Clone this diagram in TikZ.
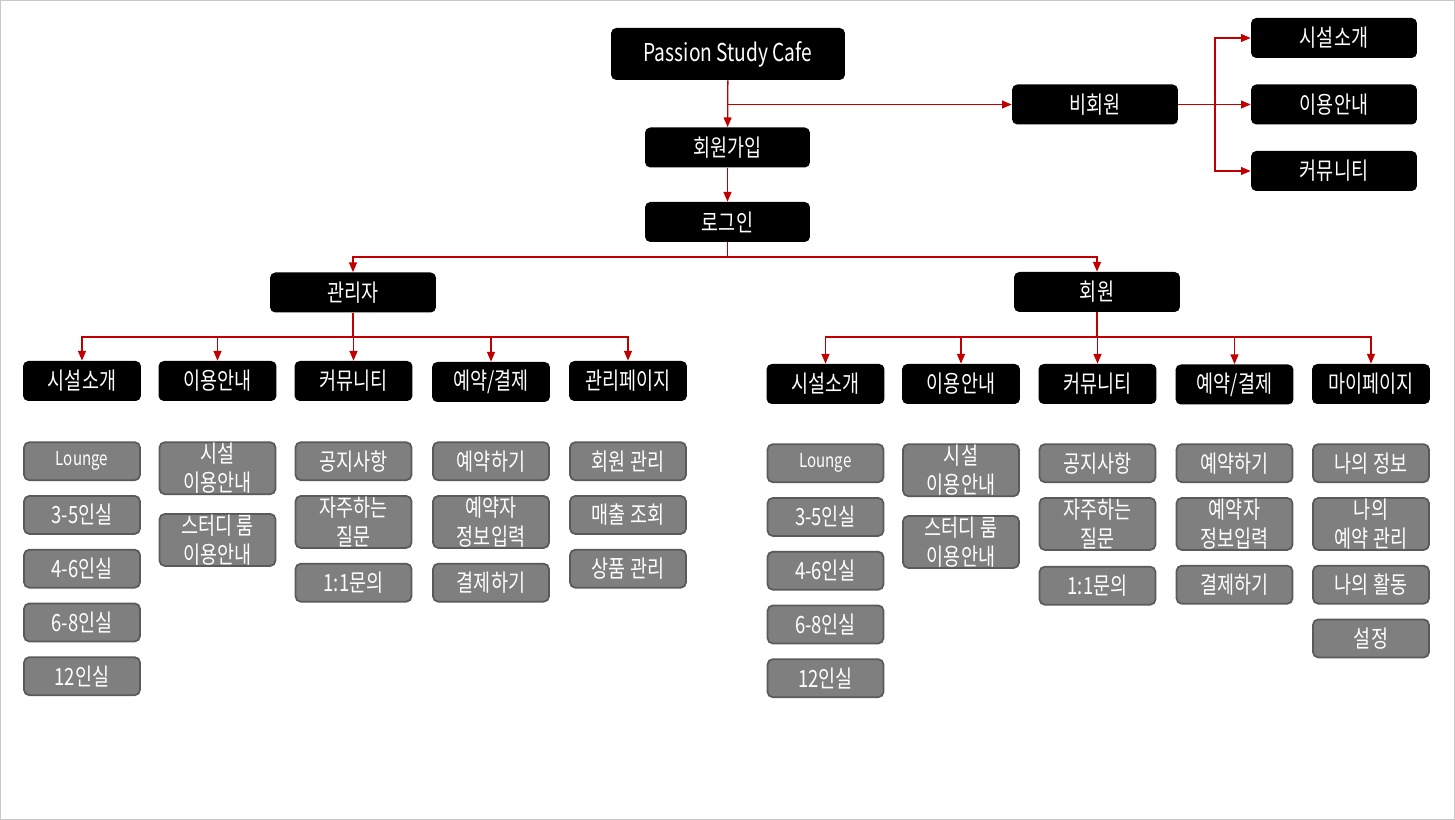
\documentclass[tikz,border=0pt]{standalone}
\usepackage{fontspec}
\setmainfont{Noto Sans CJK KR}[FakeStretch=0.78]
\usepackage{tikz}
\usetikzlibrary{arrows.meta, positioning}
\definecolor{arrred}{HTML}{C00000}
\definecolor{itemgray}{HTML}{7F7F7F}
\definecolor{itemedge}{HTML}{5A5A5A}
\definecolor{frame}{HTML}{C8C8C8}

\begin{document}
\begin{tikzpicture}[x=0.02cm, y=-0.02cm,
        head/.style={fill=black, rounded corners=3pt, text=white, minimum width=2.36cm, minimum height=0.8cm, inner sep=1pt, font=\fontsize{13.5}{16}\selectfont},
        item/.style={fill=itemgray, draw=itemedge, line width=1pt, rounded corners=3pt, text=white, minimum width=2.32cm, minimum height=0.76cm, inner xsep=1pt, inner ysep=0pt, align=center, font=\fontsize{13.5}{16.5}\selectfont},
        tall/.style={item, minimum height=1.04cm},
        wire/.style={draw=arrred, line width=0.75pt},
        arr/.style={wire, -{Triangle[width=4.5pt, length=5.5pt]}}]
        \useasboundingbox (0,0) rectangle (1455,820);
        \draw[frame] (0.5,0.5) rectangle (1454.5,819.5);

        % Top nodes
        \node (cafe) [head, minimum width=4.68cm, minimum height=1.04cm, font=\fontsize{14}{16}\selectfont] at (728,54) {Passion Study Cafe};
        \node (join) [head, minimum width=3.3cm] at (727.5,147.5) {회원가입};
        \node (login) [head, minimum width=3.3cm] at (727.5,222) {로그인};

        \node (guest) [head, minimum width=3.32cm] at (1095,104.5) {비회원};
        \node (g1) [head, minimum width=3.32cm] at (1334,38) {시설소개};
        \node (g2) [head, minimum width=3.32cm] at (1334,104.5) {이용안내};
        \node (g3) [head, minimum width=3.32cm] at (1334,171) {커뮤니티};

        \node (admin) [head, minimum width=3.32cm] at (353,292.5) {관리자};
        \node (member) [head, minimum width=3.32cm] at (1097,292) {회원};

        % Admin menu
        \node (a1) [head] at (82,381) {시설소개};
        \node (a2) [head] at (217.5,381) {이용안내};
        \node (a3) [head] at (353.5,381) {커뮤니티};
        \node (a4) [head] at (491,382) {예약/결제};
        \node (a5) [head] at (628,381) {관리페이지};

        \node (a1i1) [item, below=0.8cm of a1, font=\fontsize{11}{13}\selectfont] {Lounge};
        \node (a1i2) [item, below=0.28cm of a1i1] {3-5인실};
        \node (a1i3) [item, below=0.28cm of a1i2] {4-6인실};
        \node (a1i4) [item, below=0.28cm of a1i3] {6-8인실};
        \node (a1i5) [item, below=0.28cm of a1i4] {12인실};

        \node (a2i1) [tall, below=0.8cm of a2] {시설\\이용안내};
        \node (a2i2) [tall, below=0.36cm of a2i1] {스터디 룸\\이용안내};

        \node (a3i1) [item, below=0.8cm of a3] {공지사항};
        \node (a3i2) [tall, below=0.28cm of a3i1] {자주하는\\질문};
        \node (a3i3) [item, below=0.28cm of a3i2] {1:1문의};

        \node (a4i1) [item, below=0.78cm of a4] {예약하기};
        \node (a4i2) [tall, below=0.28cm of a4i1] {예약자\\정보입력};
        \node (a4i3) [item, below=0.28cm of a4i2] {결제하기};

        \node (a5i1) [item, below=0.8cm of a5] {회원 관리};
        \node (a5i2) [item, below=0.28cm of a5i1] {매출 조회};
        \node (a5i3) [item, below=0.28cm of a5i2] {상품 관리};

        % Member menu
        \node (m1) [head] at (825.5,384) {시설소개};
        \node (m2) [head] at (961,384) {이용안내};
        \node (m3) [head] at (1097.5,384) {커뮤니티};
        \node (m4) [head] at (1234.5,384.5) {예약/결제};
        \node (m5) [head] at (1371,384) {마이페이지};

        \node (m1i1) [item, below=0.78cm of m1, font=\fontsize{11}{13}\selectfont] {Lounge};
        \node (m1i2) [item, below=0.28cm of m1i1] {3-5인실};
        \node (m1i3) [item, below=0.28cm of m1i2] {4-6인실};
        \node (m1i4) [item, below=0.28cm of m1i3] {6-8인실};
        \node (m1i5) [item, below=0.28cm of m1i4] {12인실};

        \node (m2i1) [tall, below=0.78cm of m2] {시설\\이용안내};
        \node (m2i2) [tall, below=0.36cm of m2i1] {스터디 룸\\이용안내};

        \node (m3i1) [item, below=0.78cm of m3] {공지사항};
        \node (m3i2) [tall, below=0.28cm of m3i1] {자주하는\\질문};
        \node (m3i3) [item, below=0.3cm of m3i2] {1:1문의};

        \node (m4i1) [item, below=0.77cm of m4] {예약하기};
        \node (m4i2) [tall, below=0.28cm of m4i1] {예약자\\정보입력};
        \node (m4i3) [item, below=0.28cm of m4i2] {결제하기};

        \node (m5i1) [item, below=0.78cm of m5] {나의 정보};
        \node (m5i2) [tall, below=0.28cm of m5i1] {나의\\예약 관리};
        \node (m5i3) [item, below=0.28cm of m5i2] {나의 활동};
        \node (m5i4) [item, below=0.28cm of m5i3] {설정};

        % Joints
        \coordinate (gj) at (1215,104.5);
        \coordinate (lj) at (727.5,257);
        \coordinate (aj) at (353,337);
        \coordinate (mj) at (1097,337);

        % Arrows
        \draw[arr] (cafe) -- (join);
        \draw[arr] (cafe.south |- guest.west) -- (guest.west);
        \draw[wire] (guest.east) -- (gj);
        \draw[arr] (gj) |- (g1.west);
        \draw[arr] (gj) -- (g2.west);
        \draw[arr] (gj) |- (g3.west);
        \draw[arr] (join) -- (login);
        \draw[wire] (login) -- (lj);
        \draw[arr] (lj) -| (admin.north);
        \draw[arr] (lj) -| (member.north);

        \draw[wire] (admin) -- (aj);
        \draw[arr] (aj) -| (a1.north);
        \draw[arr] (aj) -| (a2.north);
        \draw[arr] (aj) -- (aj -| a3.north) -- (a3.north);
        \draw[arr] (aj) -| (a4.north);
        \draw[arr] (aj) -| (a5.north);

        \draw[wire] (member) -- (mj);
        \draw[arr] (mj) -| (m1.north);
        \draw[arr] (mj) -| (m2.north);
        \draw[arr] (mj) -- (mj -| m3.north) -- (m3.north);
        \draw[arr] (mj) -| (m4.north);
        \draw[arr] (mj) -| (m5.north);
    \end{tikzpicture}
\end{document}
